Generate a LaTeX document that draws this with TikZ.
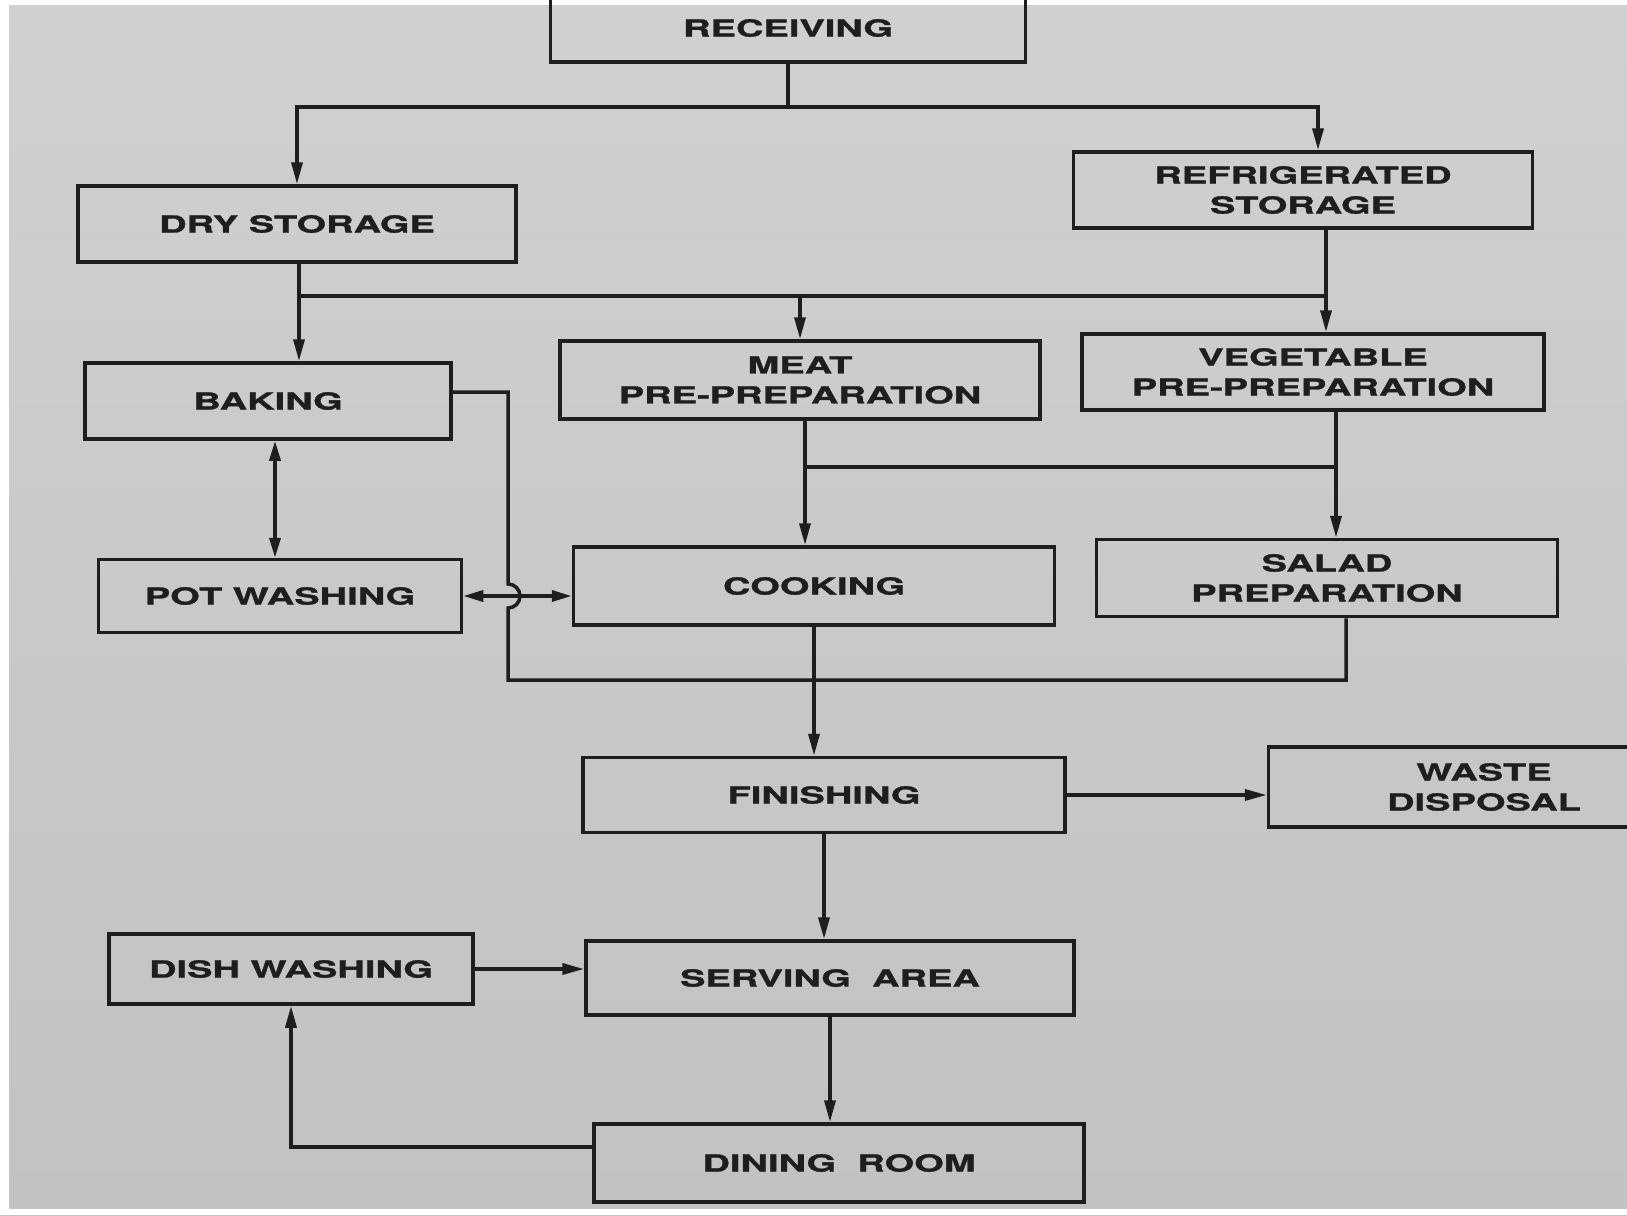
\documentclass[tikz,border=0pt]{standalone}
\usepackage{fontspec}
\usepackage{xcolor}
\usetikzlibrary{arrows.meta}
\newfontfamily\boxfont[FakeStretch=1.62, FakeBold=1.3]{TeX Gyre Heros}
\definecolor{paper}{HTML}{C8C8C8}
\definecolor{ink}{HTML}{1E1E1E}
\tikzset{
	box/.style={draw=ink, line width=3.5pt, text=ink, align=center, inner sep=0pt,
		font=\boxfont\bfseries\fontsize{23.5}{30}\selectfont},
	link/.style={draw=ink, line width=3.5pt},
	flow/.style={link, -{Triangle[length=22pt,width=11pt]}},
	twoway/.style={link, {Triangle[length=20pt,width=11pt]}-{Triangle[length=20pt,width=11pt]}}
}

\begin{document}
\begin{tikzpicture}[x=1pt, y=-1pt]
	\useasboundingbox (0,0) rectangle (1627,1215);
	\clip (0,0) rectangle (1627,1215);
	\shade[top color=paper!85!white, bottom color=paper!97!black] (0,0) rectangle (1627,1215);
	\fill[white] (0,0) rectangle (9,1215);
	\fill[white] (0,0) rectangle (1627,5);
	\fill[white] (0,1209) rectangle (1627,1215);

	% boxes
	\node[box, minimum width=475pt, minimum height=68pt] (recv) at (788,28) {RECEIVING};
	\node[box, minimum width=438pt, minimum height=76pt] (dry) at (297,224) {DRY STORAGE};
	\node[box, minimum width=459pt, minimum height=76pt] (refrig) at (1303,190) {REFRIGERATED\\STORAGE};
	\node[box, minimum width=366pt, minimum height=76pt] (baking) at (268,401) {BAKING};
	\node[box, minimum width=480pt, minimum height=78pt] (meat) at (800,380) {MEAT\\PRE-PREPARATION};
	\node[box, minimum width=462pt, minimum height=76pt] (veg) at (1313,372) {VEGETABLE\\PRE-PREPARATION};
	\node[box, minimum width=363pt, minimum height=73pt] (pot) at (280,596) {POT WASHING};
	\node[box, minimum width=481pt, minimum height=78pt] (cook) at (814,586) {COOKING};
	\node[box, minimum width=461pt, minimum height=77pt] (salad) at (1327,578) {SALAD\\PREPARATION};
	\node[box, minimum width=482pt, minimum height=75pt] (finish) at (824,795) {FINISHING};
	\node[box, minimum width=431pt, minimum height=80pt] (waste) at (1484,787) {WASTE\\DISPOSAL};
	\node[box, minimum width=364pt, minimum height=70pt] (dish) at (291,969) {DISH WASHING};
	\node[box, minimum width=488pt, minimum height=74pt] (serve) at (830,978) {SERVING\ \ AREA};
	\node[box, minimum width=490pt, minimum height=78pt] (dine) at (839,1163) {DINING\ \ ROOM};

	% branch points
	\coordinate (rsplit) at (788,107);
	\coordinate (ddrop) at (299,296);
	\coordinate (rdrop) at (1326,296);
	\coordinate (mjoin) at (805,467);
	\coordinate (vjoin) at (1336,467);
	\coordinate (bturn) at (508,392);
	\coordinate (hop) at (508,596);
	\coordinate (lbus) at (508,680);
	\coordinate (sbus) at (1346,680);

	\draw[link] (recv) -- (rsplit);
	\draw[flow] (rsplit) -| (dry);
	\draw[flow] (rsplit) -| ([xshift=15pt]refrig.north);

	\draw[link] (dry.south -| ddrop) -- (ddrop) -- (rdrop);
	\draw[link] (refrig.south -| rdrop) -- (rdrop);
	\draw[flow] (ddrop) -- (ddrop |- baking.north);
	\draw[flow] (meat.north |- ddrop) -- (meat.north);
	\draw[flow] (rdrop) -- (rdrop |- veg.north);

	\draw[link] (mjoin) -- (vjoin);
	\draw[flow] (meat.south -| mjoin) -- (mjoin |- cook.north);
	\draw[flow] (veg.south -| vjoin) -- (vjoin |- salad.north);

	\draw[twoway] ([xshift=7pt]baking.south) -- ([xshift=7pt]baking.south |- pot.north);
	\draw[twoway] (pot.east) -- (pot.east -| cook.west);
	\draw[link] ([yshift=9pt]baking.east) -- (bturn) -- ([yshift=12pt]hop)
		arc[start angle=90, end angle=-90, radius=12pt] -- (lbus) -- (sbus) -- (salad.south -| sbus);
	\draw[flow] (cook.south) -- (cook.south |- finish.north);

	\draw[flow] (finish.east) -- (finish.east -| waste.west);
	\draw[flow] (finish.south) -- (finish.south |- serve.north);
	\draw[flow] (dish.east) -- (dish.east -| serve.west);
	\draw[flow] (serve.south) -- (serve.south |- dine.north);
	\draw[flow] ([yshift=16pt]dine.west) -| (dish.south);
\end{tikzpicture}
\end{document}
